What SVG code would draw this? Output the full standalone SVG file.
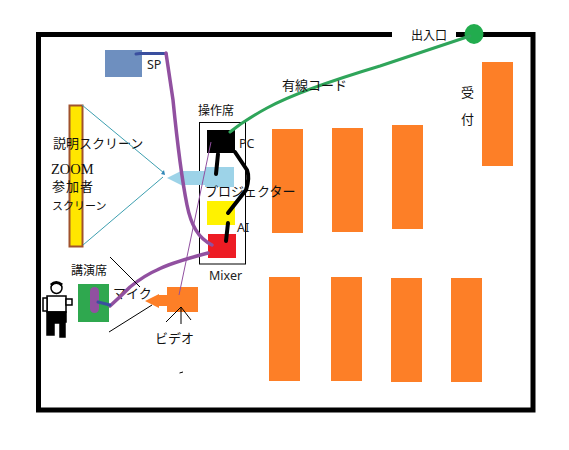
<svg xmlns="http://www.w3.org/2000/svg" width="569" height="450" viewBox="0 0 569 450">
<style>
.t{font-family:"Noto Sans CJK JP","Noto Sans",sans-serif;font-size:13px;fill:#111}
.l{font-family:"Noto Sans","Noto Sans CJK JP",sans-serif;font-size:12.5px;fill:#222}
.z{font-family:"Liberation Serif","Noto Sans CJK JP",serif;font-size:14.5px;fill:#111}
.o{fill:#fd7f27}
.w{fill:none;stroke-linecap:round;stroke-linejoin:round}
.k{stroke:#000;stroke-width:4}
.p{stroke:#9150a0;stroke-width:3.5}
.b{stroke:#3a4f9f;stroke-width:3}
.n{stroke:#000;stroke-width:1}
.c{stroke:#3d9fb0;stroke-width:1}
</style>
<rect width="569" height="450" fill="#fff"/>
<g id="room">
<path d="M392 34.500H38.500V410H533V34.500H456" fill="none" stroke="#000" stroke-width="5"/>
</g>
<g id="tables">
<rect class="o" x="272" y="129" width="31" height="104"/>
<rect class="o" x="332" y="128" width="31" height="104"/>
<rect class="o" x="392" y="125" width="31" height="104"/>
<rect class="o" x="482" y="62" width="31" height="104"/>
<rect class="o" x="269" y="277" width="31" height="104"/>
<rect class="o" x="331" y="277" width="31" height="104"/>
<rect class="o" x="391" y="278" width="31" height="104"/>
<rect class="o" x="451" y="278" width="31" height="104"/>
</g>
<g id="screen">
<rect x="69.500" y="105.500" width="13" height="141" fill="#ffe600" stroke="#a0522d" stroke-width="2"/>
<text class="t" x="53" y="148">説明スクリーン</text>
<text class="z" x="51" y="174">ZOOM</text>
<text class="t" x="52" y="191" textLength="41">参加者</text>
<text class="t" x="52" y="210" style="font-size:11px">スクリーン</text>
</g>
<g id="sp">
<rect x="105" y="50" width="37" height="27" fill="#6e8fbf"/>
<text class="l" x="147" y="69">SP</text>
</g>
<g id="console">
<rect x="199.500" y="122.500" width="46" height="141.500" fill="none" stroke="#000" stroke-width="1"/>
<text class="t" x="198" y="115" style="font-size:12px">操作席</text>
</g>
<g id="projector">
<path d="M205 167H234V187H205V185H183V186L167 178L183 170V171H205Z" fill="#9dd3e8"/>
<text class="t" x="205" y="196">プロジェクター</text>
</g>
<g id="pc">
<rect x="207" y="130" width="28" height="23" fill="#000"/>
<text class="l" x="239" y="148">PC</text>
</g>
<g id="ai">
<rect x="207" y="201" width="28" height="24" fill="#fff200"/>
<text class="l" x="237" y="232">AI</text>
</g>
<g id="mixer">
<rect x="208" y="234" width="28" height="24" fill="#ed1c24"/>
<text class="l" x="209" y="280">Mixer</text>
</g>
<g id="speaker-stand">
<rect x="78" y="284" width="31" height="38" fill="#2fa84f"/>
<rect x="90" y="287" width="9" height="26" rx="4.500" fill="#9150a0"/>
<text class="t" x="71" y="275" style="font-size:12px">講演席</text>
</g>
<g id="person" fill="#fff" stroke="#000" stroke-width="1.500">
<circle cx="56.500" cy="288" r="5.500"/>
<path d="M51 285Q56 280 62 285" fill="none" stroke-width="3"/>
<path d="M47 296H66V312H47Z"/>
<rect x="43" y="298" width="4" height="13"/>
<path d="M66 299H72V305H66Z"/>
<path d="M47 312H66V322H65V337H60V323H54V335H47Z" fill="#000"/>
</g>
<g id="mic-label">
<text class="t" x="113" y="298">マイク</text>
</g>
<g id="video">
<rect x="167" y="287" width="31" height="25" fill="#fd7f27"/>
<path d="M167 295H159V294L145 301L159 308V306H167Z" fill="#fd7f27"/>
<text class="t" x="155" y="343">ビデオ</text>
</g>
<g id="entrance">
<ellipse cx="474" cy="34" rx="9.500" ry="10" fill="#22ac4e"/>
<text class="t" x="411" y="40" style="font-size:12px">出入口</text>
</g>
<g id="reception">
<text class="t" x="461" y="97">受</text>
<text class="t" x="461" y="124">付</text>
</g>
<g id="connectors">
<path class="w" d="M470 36L380 66Q300 90 267 108Q245 120 230 132" stroke="#2fa55a" stroke-width="3"/>
<path class="w k" d="M218 154L216 174"/>
<path class="w k" d="M235 152L247 170Q250 178 246 190L228 213"/>
<path class="w k" d="M228 223L226 241"/>
<path class="w b" d="M136 54L140 53.500H166"/>
<path class="w p" d="M166 53L173 100C176 130 180 170 187 205C191 225 198 238 212 245"/>
<path class="w p" d="M110 306Q120 297 130 287Q145 275 157 270Q170 263 208 253"/>
<path class="w b" d="M98 302L110 305"/>
<path d="M211 142L179 295" fill="none" stroke="#9150a0" stroke-width="1"/>
<path class="n" d="M110 257L140 287M109 332L152 305M181 307L166 322M181 307V324M181 307L191 320M179.500 373L183 372"/>
<path class="c" d="M82 105L164 173M83 245L163 177"/>
<path d="M164 170L165 175L161 174Z" fill="#2e86b8"/>
<text class="t" x="282" y="90">有線コード</text>
</g>
</svg>
